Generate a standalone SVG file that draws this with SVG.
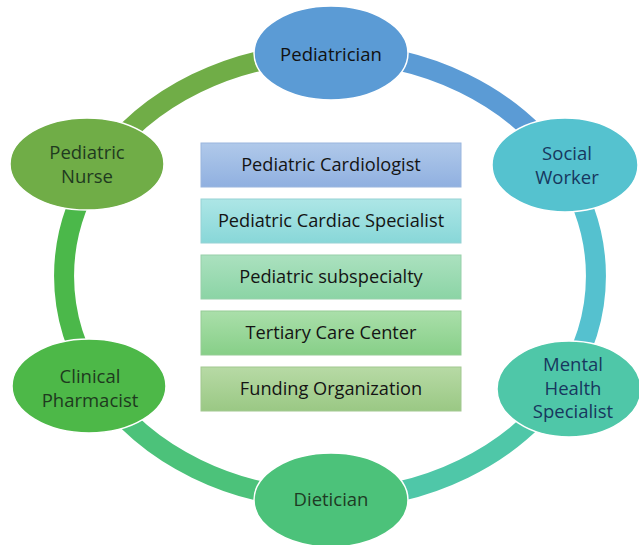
<svg xmlns="http://www.w3.org/2000/svg" width="639" height="545" viewBox="0 0 639 545">
<defs>
<linearGradient id="g1" x1="0" y1="0" x2="0" y2="1"><stop offset="0" stop-color="#b0c9ea"/><stop offset="1" stop-color="#90b0e0"/></linearGradient>
<linearGradient id="g2" x1="0" y1="0" x2="0" y2="1"><stop offset="0" stop-color="#ade6e6"/><stop offset="1" stop-color="#88d7d8"/></linearGradient>
<linearGradient id="g3" x1="0" y1="0" x2="0" y2="1"><stop offset="0" stop-color="#abe1bf"/><stop offset="1" stop-color="#8bd4a5"/></linearGradient>
<linearGradient id="g4" x1="0" y1="0" x2="0" y2="1"><stop offset="0" stop-color="#aadfaa"/><stop offset="1" stop-color="#87cf88"/></linearGradient>
<linearGradient id="g5" x1="0" y1="0" x2="0" y2="1"><stop offset="0" stop-color="#b7daa5"/><stop offset="1" stop-color="#9ac884"/></linearGradient>
</defs>
<style>
.arc{fill:none;stroke-width:20}
.node{stroke:#ffffff;stroke-width:1.5}
.lbl{font-family:"Open Sans","Liberation Sans",sans-serif;font-size:18.5px;text-anchor:middle}
.box{stroke-width:1}
.btx{font-family:"Open Sans","Liberation Sans",sans-serif;font-size:18.2px;text-anchor:middle;fill:#141414}
</style>
<g id="connectors">
<path class="arc" stroke="#5b9bd5" d="M330,53 A266,223 0 0 1 561.2,165.8"/>
<path class="arc" stroke="#55c1cf" d="M561.2,165.8 A266,223 0 0 1 561.2,386.2"/>
<path class="arc" stroke="#4fc7a8" d="M561.2,386.2 A266,223 0 0 1 330,499"/>
<path class="arc" stroke="#4cc27a" d="M330,499 A266,223 0 0 1 98.8,386.2"/>
<path class="arc" stroke="#4bb84a" d="M98.8,386.2 A266,223 0 0 1 98.8,165.8"/>
<path class="arc" stroke="#70ad47" d="M98.8,165.8 A266,223 0 0 1 330,53"/>
</g>
<g id="pediatrician">
<ellipse class="node" cx="331" cy="53" rx="77" ry="47" fill="#5b9bd5"/>
<text class="lbl" x="331" y="61" fill="#111111">Pediatrician</text>
</g>
<g id="social-worker">
<ellipse class="node" cx="565" cy="165" rx="73" ry="47" fill="#55c2cf"/>
<text class="lbl" x="567" y="160" fill="#17375e">Social</text>
<text class="lbl" x="567" y="184" fill="#17375e">Worker</text>
</g>
<g id="mental-health">
<ellipse class="node" cx="569" cy="389" rx="72" ry="48" fill="#4fc7a8"/>
<text class="lbl" x="573" y="371" fill="#17375e">Mental</text>
<text class="lbl" x="573" y="395" fill="#17375e">Health</text>
<text class="lbl" x="573" y="418" fill="#17375e">Specialist</text>
</g>
<g id="dietician">
<ellipse class="node" cx="331" cy="500" rx="77" ry="47" fill="#4cc27a"/>
<text class="lbl" x="331" y="506" fill="#1e3a24">Dietician</text>
</g>
<g id="clinical-pharmacist">
<ellipse class="node" cx="89" cy="386" rx="77" ry="47" fill="#4db848"/>
<text class="lbl" x="90" y="383" fill="#1e3a1e">Clinical</text>
<text class="lbl" x="90" y="407" fill="#1e3a1e">Pharmacist</text>
</g>
<g id="pediatric-nurse">
<ellipse class="node" cx="87" cy="164" rx="77" ry="46" fill="#70ad47"/>
<text class="lbl" x="87" y="159" fill="#1f3a1f">Pediatric</text>
<text class="lbl" x="87" y="183" fill="#1f3a1f">Nurse</text>
</g>
<g id="box1">
<rect class="box" x="201" y="143" width="260" height="44" fill="url(#g1)" stroke="#9ab6de"/>
<text class="btx" x="331" y="171">Pediatric Cardiologist</text>
</g>
<g id="box2">
<rect class="box" x="201" y="199" width="260" height="44" fill="url(#g2)" stroke="#96d2d4"/>
<text class="btx" x="331" y="227">Pediatric Cardiac Specialist</text>
</g>
<g id="box3">
<rect class="box" x="201" y="255" width="260" height="44" fill="url(#g3)" stroke="#97d0aa"/>
<text class="btx" x="331" y="283">Pediatric subspecialty</text>
</g>
<g id="box4">
<rect class="box" x="201" y="311" width="260" height="44" fill="url(#g4)" stroke="#95cc95"/>
<text class="btx" x="331" y="339">Tertiary Care Center</text>
</g>
<g id="box5">
<rect class="box" x="201" y="367" width="260" height="44" fill="url(#g5)" stroke="#a2c890"/>
<text class="btx" x="331" y="395">Funding Organization</text>
</g>
</svg>
